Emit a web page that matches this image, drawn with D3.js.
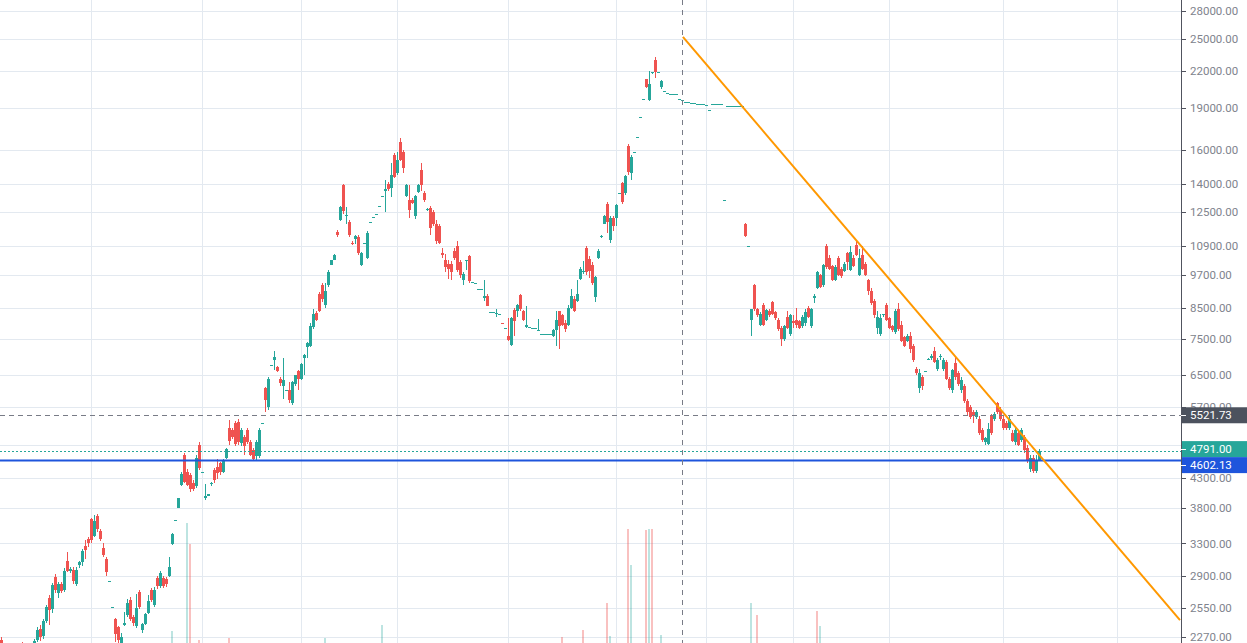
<!DOCTYPE html>
<html><head><meta charset="utf-8">
<script src="https://cdn.jsdelivr.net/npm/d3@7"></script>
<style>html,body{margin:0;padding:0;background:#fff;overflow:hidden}svg{display:block}</style>
</head><body><svg id="c" width="1247" height="643"></svg>
<script>
// ---- price axis ticks (log scale) ----
const priceTicks = [28000,25000,22000,19000,16000,14000,12500,10900,9700,8500,7500,6500,5700,4900,4300,3800,3300,2900,2550,2270];
const hiddenTickLabels = [4900];
// ---- time grid (bar indexes of period starts) ----
const timeTickIdx = [30,67,100,132,169,205,235,264,296,334,372];

// ---- candles [open, high, low, close]; [v] = flat bar ----
const baseBars = [[2240,2270,2150,2170],[2170,2210,2120,2190],[2190,2200,2100,2130],[2130,2150,2060,2080],[2080,2140,2050,2120],[2120,2170,2100,2150],[2150,2180,2090,2110],[2140,2220,2100,2120],[2120,2160,2080,2140],[2140,2190,2110,2170],[2170,2200,2120,2150],[2150,2250,2140,2230]];
const firstRally = [[2240,2360,2220,2330],[2340,2380,2230,2270],[2280,2440,2250,2420],[2420,2580,2400,2560],[2650,2680,2380,2530],[2540,2820,2500,2790],[2880,2920,2700,2740],[2700,2830,2650,2800],[2800,2830,2700,2730],[2740,2990,2720,2950],[3080,3190,2940,2960],[2960,3000,2930,2980],[2970,3000,2800,2840],[2800,3000,2780,2970],[3030,3080,2990,3060],[3060,3230,3020,3200],[3260,3350,3100,3220],[3360,3390,3250,3300],[3640,3660,3300,3340],[3400,3700,3380,3610],[3690,3720,3450,3490],[3470,3500,3330,3360],[3240,3300,3120,3150],[3100,3130,2900,2940]];
const firstDrop = [[2840],[2560],[2440,2450,2220,2290],[2360,2370,2200,2240],[2190,2300,2150,2270]];
const recovery = [[2380,2510,2370,2400],[2480,2640,2460,2600],[2630,2660,2420,2440],[2460,2480,2370,2400],[2370,2690,2350,2550],[2720,2740,2540,2560],[2330,2400,2300,2390],[2390,2500,2380,2490],[2500,2680,2490,2620],[2740,2760,2610,2630],[2580,2770,2560,2740],[2870,2890,2750,2780],[2780,2950,2760,2930],[2870,2890,2760,2780],[2860,2880,2770,2800],[2900,3130,2880,3000],[3290,3440,3280,3430],[3620],[3800,3960,3800,3960]];
const breakout = [[4170,4400,4150,4370],[4700,4750,4200,4230],[4400,4450,4150,4180],[4350,4380,4060,4100],[4200,4250,4080,4100],[4150,4700,4130,4650],[4900,4950,4430,4470],[4400],[3960,4190,3930,4000],[4000,4030,3990,4020],[4190,4220,4150,4200],[4440,4460,4200,4250],[4480,4630,4270,4380],[4560,4580,4350,4400],[4400,4640,4380,4620],[4660,4850,4640,4820],[5250,5410,4900,4980],[5210,5250,5020,5060],[5360,5400,4880,4920],[5380,5430,4900,4960],[4940,5250,4880,5200],[5060,5100,4700,4880],[5200,5250,4920,4960],[4960,5000,4680,4710],[4800,4850,4620,4640],[4690,5000,4610,4960],[4690,5250,4650,5200]];
const secondRally = [[5350],[6150,6180,5600,5870],[5700,6440,5650,6400],[6760],[6900,7150,6620,6990],[6700,6720,6580,6600],[6400,6450,6200,6290],[6200,6950,5900,6350],[6100],[6110,6300,5800,5870],[5800,6330,5750,6300],[6250,6500,6200,6480],[6600,6620,6100,6380],[6380,6800,6350,6780],[6950,7060,6500,7030],[7270,7420,6950,7370],[7300,8000,7250,7900],[7860,8450,7800,8300],[8330,8380,8050,8100],[9000,9050,8350,8400],[9300,9400,8700,8800],[8600,9400,8500,9100],[9300,9900,9250,9800],[10100,10300,10100,10300],[10300,10550,10300,10500],[11520,11620,11300,11400],[12100,12800,12050,12750],[13900,14000,12400,12550],[12300,12750,11900,12350],[12000,12100,11300,11400],[11050,11100,10950,11000],[11200,11400,11000,11350],[11300,11400,10500,10600],[10100,10650,10050,10600],[11050],[10400,11550,10350,11500],[12000],[12250],[12400],[12800],[13300],[13600,14200,12500,13700],[14000,14100,13600,13700],[13750,15200,13250,14500],[15700,15800,14300,14400],[14600,15900,14500,15400],[16550,16800,15300,15400]];
const topDecline = [[15900,16000,14600,14900],[13300,14000,13250,13900],[13100,13900,12200,12600],[13100,13200,12900,12950],[12300,13400,12150,13300],[13550,13950,13500,13900],[14800,15200,13600,13900],[13500,13600,13000,13100],[12600,12700,12550,12650],[12700,12800,11400,11700],[12500,12600,11800,11900],[11900,12100,11000,11100],[11800,11900,11000,11050],[10600,10800,10400,10520],[10300,10550,9800,10000],[10150,10300,9550,9950],[10150,10250,9520,9800],[10700,10800,10300,10400],[10900,11100,9800,9900],[10200,10300,9600,9680],[9500,9800,9300,9750],[10250,10300,9900,10300],[10450,10500,9400,9450],[9420],[9400],[9180],[9180],[8850,9500,8750,8900],[8900,9000,8550,8580],[8370],[8370],[8300,8450,8200,8320],[8300],[7990,7990,7970,7970],[7850]];
const bottomBars = [[7600,8150,7450,7480],[7330,8200,7300,8150],[8420,8500,7600,8050],[8400,8620,8200,8600],[8950,9000,8400,8450],[8380,8420,8050,8080],[7880,8550,7850,7920],[7860],[7850],[7850],[7760,8140,7750,7770],[7660],[7660],[7660],[7640],[7600,7800,7550,7780],[7780,8380,7300,8080],[8380,8400,7200,7900],[8250,8300,7900,7950],[8000,8100,7700,7800],[7950,8600,7900,8500],[8500,9150,8450,8900]];
const thirdRally = [[8800,8900,8350,8400],[8750,9500,8700,9000],[9550,10000,9500,9950],[9800,10250,9750,9850],[10800,10900,9700,9800],[10350,10450,9600,9850],[10100,10200,9300,9400],[8880,9650,8700,9620],[10400,10750,10350,10700],[11300,11400,11250,11350],[11900,12320,11880,12300],[12900,13000,11500,12000],[11180,12300,11050,12200],[12200,12300,11560,11800],[12200,12900,11800,12850],[13500],[14050,14100,12900,13000],[13500,14500,13350,14450],[16300,16400,14500,14650],[14600,15700,14200,15600],[15900],[16900],[18300],[19700],[21300,21350,20550,20600],[19600,22000,19500,20900],[21800,21950,21700,21900],[23000,23300,21400,21900],[21900],[20600,21200,20500,21100]];
const plateau = [[20300],[20150],[20100],[20050],[20050],[19650],[19600],[19450],[19450],[19350],[19350],[19300],[19300],[19300],[19200],[18800],[19250],[19250],[19250],[19250],[13100],[19100],[19100],[19100],[19100],[19100],[19100],[11900,11950,11300,11350],[10900]];
const secondBase = [[8100,8450,7600,8450],[9300,9350,8400,8450],[8450,8500,8200,8250],[7950,8350,7900,8300],[8600,8650,7900,7950],[8100,8450,8050,8420],[8400,8450,8200,8250],[8700,8750,8250,8300],[8350,8400,8100,8150],[8100,8150,7750,7800],[7850,7900,7300,7500],[7500,7950,7450,7900],[8200,8400,7800,7850],[7650,8300,7600,8250],[8050,8250,7850,8000],[8100,8500,7850,7950],[8050,8100,7800,7850],[7900,8250,7850,8200],[8000,8450,7900,8350],[8500,8550,8150,8200],[7900,8500,7850,8450],[8850,9000,8650,8900],[9200,9850,9150,9800],[9700,9750,9200,9250],[9300,10150,9250,10100],[10900,11000,9950,10000],[10400,10500,9900,9950],[10050,10100,9450,9500],[9500,10100,9450,10000],[10400,10450,9650,9700],[9950,10000,9600,9650],[9850,10200,9800,10150],[10600,10650,9900,10200],[9900,10900,9850,10650],[10400,10500,10000,10050],[10950,11100,10450,10500],[9700,10750,9650,10400],[10500,10900,9900,9950],[10150,10200,9650,9700]];
const finalDecline = [[9500,9550,8950,9100],[9100,9200,8600,8650],[8750,8800,8150,8250],[7850,8400,7650,8200],[7650,8300,7600,8150],[8250,8300,8200,8280],[8600,8650,8050,8100],[8150,8200,7800,7850],[7900,7950,7700,7780],[7700,8450,7650,8400],[8450,8650,7750,7800],[7950,8050,7400,7450],[7550,7600,7250,7300],[7450,7650,7400,7600],[7600,7700,7100,7200],[7300,7350,6850,6900],[6650,6700,6500,6550],[6150,6650,6050,6550],[6450,6500,6100,6200],[6580,6600,6570,6600],[6900,6950,6880,6920],[6950,7050,6900,7000],[7150,7250,6800,6850],[6650,6950,6600,6900],[6980,7050,6900,7000],[6650,6950,6600,6880],[6850,6900,6350,6400],[6400,6450,6100,6150],[6100,6650,6050,6620],[6800,7000,6350,6450],[6550,6600,6200,6250],[6100,6450,6050,6350],[6200,6250,5800,5850],[5850,5900,5500,5600],[5700,5750,5450,5480],[5600,5650,5350,5500],[5480,5650,5450,5600],[5450,5500,5100,5150],[5200,5250,4950,5000],[4950,5050,4900,5030],[4920,5350,4900,5220],[5500,5550,5100,5150],[5450,5600,5400,5550],[5800,5820,5550,5600],[5650,5700,5400,5450],[5450,5500,5200,5250],[5350,5400,5200,5250],[5250,5500,5200,5450],[5150,5200,4950,4980],[4950,5250,4900,5200],[5150,5200,4880,4900],[5000,5250,4950,5200],[5050,5100,4750,4800],[4850,4900,4550,4600],[4450,4700,4400,4650],[4650,4700,4380,4420],[4420,4700,4380,4620],[4620,4830,4600,4791]];

// ---- volume [barIndex, volume, up(1)/down(0)] ----
const volumes = [[57,120,1],[62,1200,1],[63,990,0],[66,30,0],[76,50,0],[108,50,1],[127,180,1],[187,60,0],[194,130,0],[202,400,0],[203,70,1],[209,1140,0],[210,780,1],[215,1130,0],[216,1140,1],[217,1140,0],[220,80,1],[250,400,1],[252,280,0],[272,320,0],[273,170,1]];

// ---- overlays ----
const lastPrice = 4791.00;
const hLinePrice = 4602.13;
const crossPrice = 5521.73;
const crossIdx = 227;
const trendLine = [[227.3, 25230],[393, 2426]]; // [barIndex, price]

// =================================================================
const W = 1247, H = 643, PR = 1181;
const bars = [].concat(baseBars, firstRally, firstDrop, recovery, breakout, secondRally, topDecline, bottomBars, thirdRally, plateau, secondBase, finalDecline)
  .map((d, i) => d.length === 1 ? {i, o:d[0], h:d[0], l:d[0], c:d[0]} : {i, o:d[0], h:d[1], l:d[2], c:d[3]});

const x = d3.scaleLinear().domain([0, 346]).range([1, 1039]);
const y = d3.scaleLog().domain([28000, 2270]).range([11, 636.6]);
const vy = d3.scaleLinear().domain([0, 1200]).range([H, H - 120]);

const UP = '#26a69a', DOWN = '#ef5350';
const svg = d3.select('#c');
svg.append('rect').attr('width', W).attr('height', H).attr('fill', '#fff');

const grid = svg.append('g').attr('stroke', '#e3e9f0').attr('stroke-width', 1);
grid.selectAll('.h').data(priceTicks).join('line')
  .attr('x1', 0).attr('x2', PR).attr('y1', d => Math.round(y(d)) + 0.5).attr('y2', d => Math.round(y(d)) + 0.5);
grid.selectAll('.v').data(timeTickIdx).join('line')
  .attr('y1', 0).attr('y2', H).attr('x1', d => Math.round(x(d)) + 0.5).attr('x2', d => Math.round(x(d)) + 0.5);

// volume
svg.append('g').selectAll('rect').data(volumes).join('rect')
  .attr('x', d => Math.round(x(d[0])) - 1).attr('width', 2)
  .attr('y', d => vy(d[1])).attr('height', d => H - vy(d[1]))
  .attr('fill', d => d[2] ? 'rgba(38,166,154,0.3)' : 'rgba(239,83,80,0.36)');

// candles
const cg = svg.append('g').attr('shape-rendering', 'crispEdges');
const bar = cg.selectAll('g').data(bars).join('g').attr('fill', d => d.c >= d.o ? UP : DOWN);
bar.append('rect')
  .attr('x', d => Math.round(x(d.i)))
  .attr('width', 1)
  .attr('y', d => Math.round(y(d.h)))
  .attr('height', d => Math.max(1, Math.round(y(d.l)) - Math.round(y(d.h))));
bar.append('rect')
  .attr('x', d => Math.round(x(d.i)) - 1)
  .attr('width', 3)
  .attr('y', d => Math.round(y(Math.max(d.o, d.c))))
  .attr('height', d => Math.max(1, Math.round(y(Math.min(d.o, d.c))) - Math.round(y(Math.max(d.o, d.c)))));

// horizontal line (blue)
svg.append('line').attr('x1', 0).attr('x2', PR).attr('y1', y(hLinePrice)).attr('y2', y(hLinePrice))
  .attr('stroke', '#1e55dc').attr('stroke-width', 2);
// last price line
svg.append('line').attr('x1', 0).attr('x2', PR).attr('y1', Math.round(y(lastPrice)) + 0.5).attr('y2', Math.round(y(lastPrice)) + 0.5)
  .attr('stroke', UP).attr('stroke-width', 1).attr('stroke-dasharray', '2,2');
// crosshair
svg.append('line').attr('x1', 0).attr('x2', PR).attr('y1', Math.round(y(crossPrice)) + 0.5).attr('y2', Math.round(y(crossPrice)) + 0.5)
  .attr('stroke', '#787b86').attr('stroke-width', 1).attr('stroke-dasharray', '5,4');
svg.append('line').attr('y1', 0).attr('y2', H).attr('x1', Math.round(x(crossIdx)) + 0.5).attr('x2', Math.round(x(crossIdx)) + 0.5)
  .attr('stroke', '#787b86').attr('stroke-width', 1).attr('stroke-dasharray', '5,5');

// trend line
svg.append('line')
  .attr('x1', x(trendLine[0][0])).attr('y1', y(trendLine[0][1]))
  .attr('x2', x(trendLine[1][0])).attr('y2', y(trendLine[1][1]))
  .attr('stroke', '#ff9800').attr('stroke-width', 2);

// price axis
const ax = svg.append('g');
ax.append('rect').attr('x', PR).attr('y', 0).attr('width', W - PR).attr('height', H).attr('fill', '#fff');
ax.append('line').attr('x1', PR + 0.5).attr('x2', PR + 0.5).attr('y1', 0).attr('y2', H).attr('stroke', '#50535e');
ax.selectAll('.t').data(priceTicks).join('line')
  .attr('x1', PR).attr('x2', PR + 5).attr('y1', d => Math.round(y(d)) + 0.5).attr('y2', d => Math.round(y(d)) + 0.5)
  .attr('stroke', '#50535e');
ax.selectAll('text').data(priceTicks.filter(d => !hiddenTickLabels.includes(d))).join('text')
  .attr('x', 1190).attr('y', d => y(d)).attr('dy', '0.36em')
  .attr('font-family', 'Roboto, sans-serif').attr('font-size', '11.5px').attr('fill', '#80838d')
  .text(d => d3.format('.2f')(d));

// price labels
const LH = 16;
const labels = [
  {v: crossPrice, c: '#4c525e'},
  {v: lastPrice, c: UP},
  {v: hLinePrice, c: '#1e55dc'}
].map(d => ({...d, yc: y(d.v)})).sort((a, b) => a.yc - b.yc);
for (let k = 1; k < labels.length; k++) {
  const gap = labels[k].yc - labels[k - 1].yc;
  if (gap < LH) { const ov = LH - gap; labels[k - 1].yc -= ov * 0.25; labels[k].yc += ov * 0.75; }
}
const lg = svg.append('g').selectAll('g').data(labels).join('g');
lg.append('rect').attr('x', PR + 1).attr('width', W - PR - 1).attr('y', d => d.yc - LH / 2).attr('height', LH).attr('fill', d => d.c);
lg.append('line').attr('x1', PR).attr('x2', PR + 5).attr('y1', d => Math.round(d.yc) + 0.5).attr('y2', d => Math.round(d.yc) + 0.5).attr('stroke', '#fff');
lg.append('text').attr('x', 1190).attr('y', d => d.yc).attr('dy', '0.36em')
  .attr('font-family', 'Roboto, sans-serif').attr('font-size', '11.5px').attr('fill', '#fff')
  .text(d => d3.format('.2f')(d.v));
</script></body></html>
